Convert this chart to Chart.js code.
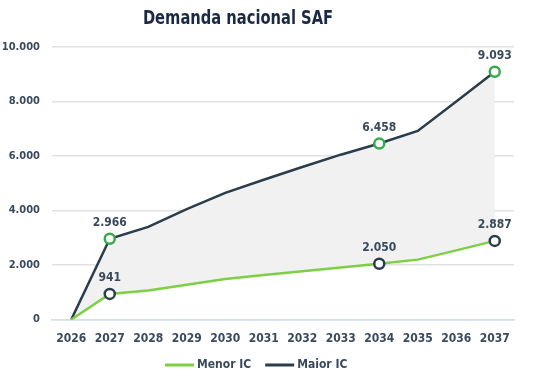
<!DOCTYPE html>
<html>
<head>
<meta charset="utf-8">
<script src="https://cdn.jsdelivr.net/npm/chart.js@4.4.1/dist/chart.umd.min.js"></script>
<style>
  html, body { margin: 0; padding: 0; background: #fff; }
  #wrap { width: 552px; height: 378px; position: relative; }
</style>
</head>
<body>
<div id="wrap"><canvas id="safChart"></canvas></div>
<script>
// data
const years = ["2026", "2027", "2028", "2029", "2030", "2031", "2032", "2033", "2034", "2035", "2036", "2037"];
const menorIC = [0, 941, 1070, 1280, 1490, 1640, 1770, 1910, 2050, 2200, 2540, 2887];
const maiorIC = [0, 2966, 3400, 4050, 4650, 5130, 5600, 6050, 6458, 6920, 8000, 9093];
const highlighted = [1, 8, 11]; // indexes with marker + label
const yTicks = [0, 2000, 4000, 6000, 8000, 10000];

const GREEN = "#7dd044";
const MARKER_GREEN = "#3aa94a";
const DARK = "#2b3d4b";
const TEXT = "#3a4a5c";
const FONT = "'DejaVu Sans Condensed', 'DejaVu Sans', sans-serif";

const fmt = (v) => String(v).replace(/\B(?=(\d{3})+(?!\d))/g, ".");
const markerRadius = (ctx) => (highlighted.includes(ctx.dataIndex) ? 5 : 0);

// labels above the highlighted points, plus title and legend
const extrasPlugin = {
  id: "extras",
  afterDatasetsDraw(chart) {
    const ctx = chart.ctx;
    ctx.save();
    ctx.font = "bold 12px " + FONT;
    ctx.fillStyle = TEXT;
    ctx.textAlign = "center";
    ctx.textBaseline = "bottom";
    chart.data.datasets.forEach((ds, i) => {
      const meta = chart.getDatasetMeta(i);
      highlighted.forEach((idx) => {
        const pt = meta.data[idx];
        ctx.fillText(fmt(ds.data[idx]), pt.x, pt.y - 10);
      });
    });
    ctx.restore();
  },
  afterDraw(chart) {
    const ctx = chart.ctx;
    ctx.save();
    // title, squeezed a bit to look like the condensed original
    ctx.translate(238, 19);
    ctx.scale(0.86, 1);
    ctx.font = "bold 19px " + FONT;
    ctx.fillStyle = "#1b2a44";
    ctx.textAlign = "center";
    ctx.textBaseline = "middle";
    ctx.fillText("Demanda nacional SAF", 0, 0);
    ctx.restore();

    // legend
    ctx.save();
    ctx.font = "bold 12px " + FONT;
    ctx.textAlign = "left";
    ctx.textBaseline = "middle";
    let x = 165;
    const y = 365;
    chart.data.datasets.forEach((ds) => {
      ctx.strokeStyle = ds.borderColor;
      ctx.lineWidth = 3;
      ctx.beginPath();
      ctx.moveTo(x, y);
      ctx.lineTo(x + 29, y);
      ctx.stroke();
      ctx.fillStyle = TEXT;
      ctx.fillText(ds.label, x + 32, y);
      x += 32 + ctx.measureText(ds.label).width + 14;
    });
    ctx.restore();
  },
};

new Chart(document.getElementById("safChart"), {
  type: "line",
  data: {
    labels: years,
    datasets: [
      {
        label: "Menor IC",
        data: menorIC,
        borderColor: GREEN,
        borderWidth: 2.5,
        tension: 0,
        fill: false,
        pointRadius: markerRadius,
        pointBackgroundColor: "#fff",
        pointBorderColor: DARK,
        pointBorderWidth: 2.5,
      },
      {
        label: "Maior IC",
        data: maiorIC,
        borderColor: DARK,
        borderWidth: 2.5,
        tension: 0,
        fill: "-1",
        backgroundColor: "#f1f1f1",
        pointRadius: markerRadius,
        pointBackgroundColor: "#fff",
        pointBorderColor: MARKER_GREEN,
        pointBorderWidth: 2.5,
      },
    ],
  },
  options: {
    responsive: true,
    maintainAspectRatio: false,
    animation: false,
    layout: {
      padding: { top: 47, bottom: 20, left: 0, right: 38 },
    },
    plugins: {
      legend: { display: false },
      title: { display: false },
      tooltip: { enabled: false },
    },
    scales: {
      x: {
        offset: true,
        grid: { display: false, drawTicks: false },
        border: { display: true, color: "#cfe0f3", width: 1.5 },
        ticks: {
          padding: 12,
          color: TEXT,
          font: { family: FONT, size: 12, weight: "bold" },
        },
      },
      y: {
        min: 0,
        max: 10000,
        afterBuildTicks: (axis) => {
          axis.ticks = yTicks.map((v) => ({ value: v }));
        },
        afterFit: (axis) => {
          axis.width = 52;
        },
        grid: {
          drawTicks: false,
          color: (c) => (c.tick.value === 0 ? "#cfe0f3" : "#e2e2e2"),
          lineWidth: 1.5,
        },
        border: { display: false },
        ticks: {
          padding: 12,
          color: TEXT,
          font: { family: FONT, size: 11, weight: "bold" },
          callback: (v) => fmt(v),
        },
      },
    },
  },
  plugins: [extrasPlugin],
});
</script>
</body>
</html>
